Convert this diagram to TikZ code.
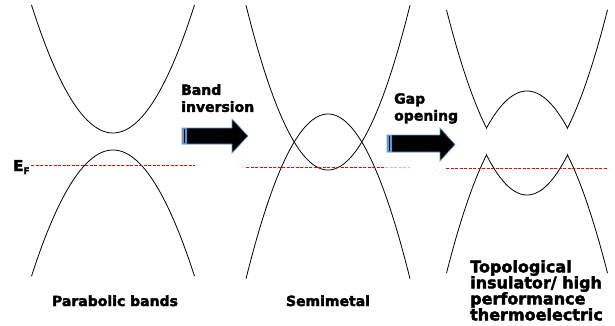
\documentclass[tikz,border=0pt]{standalone}
\usepackage{fontspec}
\setmainfont{DejaVu Sans}
\newfontfamily\labelfont{DejaVu Sans Bold}[FakeBold=2.5]
\usetikzlibrary{arrows.meta,positioning}
\definecolor{arrowblue}{RGB}{91,155,213}
\definecolor{fermired}{RGB}{240,0,0}

\begin{document}
\begin{tikzpicture}[x=1pt, y=-1pt, every node/.style={font=\labelfont\fontsize{14}{17}\selectfont, inner sep=0pt}]
  \useasboundingbox (0,0) rectangle (615,326);
  \tikzset{band/.style={black, line width=0.8pt},
           fermi/.style={draw=fermired, line width=1pt, dash pattern=on 3pt off 1.5pt},
           blockarrow/.style={fill=black, draw=arrowblue, line width=0.6pt}}

  % Parabolic bands
  \draw[band] plot[domain=31.5:194.5, samples=60] (\x, {133-0.01927*(\x-113)*(\x-113)});
  \draw[band] plot[domain=31.5:194.5, samples=60] (\x, {150+0.019*(\x-113)*(\x-113)});
  \draw[fermi] (31,165.5) -- (195,165.5);
  \node[anchor=base west] (ef) at (13,171) {\fontsize{15}{15}\selectfont E\raisebox{-3pt}{\fontsize{9}{9}\selectfont F}};
  \node[anchor=base] (lblpar) at (115,306) {Parabolic bands};

  % Band inversion arrow
  \draw[blockarrow] (182,128) -- (232,128) -- (232,119) -- (248,136) -- (232,153) -- (232,144) -- (182,144) -- cycle;
  \fill[arrowblue] (182.3,128.3) rectangle (187,143.7);
  \draw[black, line width=0.8pt] (184.5,129) -- (184.5,143);
  \node[anchor=north west, align=left] (lblband) at (181,84) {Band\\inversion};

  % Semimetal
  \draw[band] plot[domain=246:410, samples=60] (\x, {170-0.0245*(\x-328)*(\x-328)});
  \draw[band] plot[domain=246:410, samples=60] (\x, {114+0.0245*(\x-328)*(\x-328)});
  \draw[fermi] (246,167.5) -- (385,167.5);
  \draw[fermi, draw=fermired!30] (385,167.5) -- (410,167.5);
  \node[anchor=base] (lblsemi) at (328,306) {Semimetal};

  % Gap opening arrow
  \draw[blockarrow] (387,135) -- (440,135) -- (440,128) -- (455,144.5) -- (440,161) -- (440,152) -- (387,152) -- cycle;
  \fill[arrowblue] (387.3,135.3) rectangle (392,151.7);
  \draw[black, line width=0.8pt] (389.5,136) -- (389.5,151);
  \node[anchor=north west, align=left] (lblgap) at (394,93) {Gap\\opening};

  % Gapped bands
  \draw[band] plot[domain=446.5:486.5, samples=30] (\x, {168-0.0244*(\x-527)*(\x-527)})
    -- plot[domain=486.5:567.5, samples=40] (\x, {91+0.0226*(\x-527)*(\x-527)})
    -- plot[domain=567.5:607.5, samples=30] (\x, {168-0.0244*(\x-527)*(\x-527)});
  \draw[band] plot[domain=446.5:486.5, samples=30] (\x, {115+0.0244*(\x-527)*(\x-527)})
    -- plot[domain=486.5:567.5, samples=40] (\x, {195-0.0244*(\x-527)*(\x-527)})
    -- plot[domain=567.5:607.5, samples=30] (\x, {115+0.0244*(\x-527)*(\x-527)});
  \draw[fermi] (446,168.5) -- (608,168.5);
  \node[anchor=north west, align=left, fill=white, font=\labelfont\fontsize{16}{16}\selectfont] (lbltop) at (470,260) {Topological\\insulator/ high\\performance\\thermoelectric};
\end{tikzpicture}
\end{document}
